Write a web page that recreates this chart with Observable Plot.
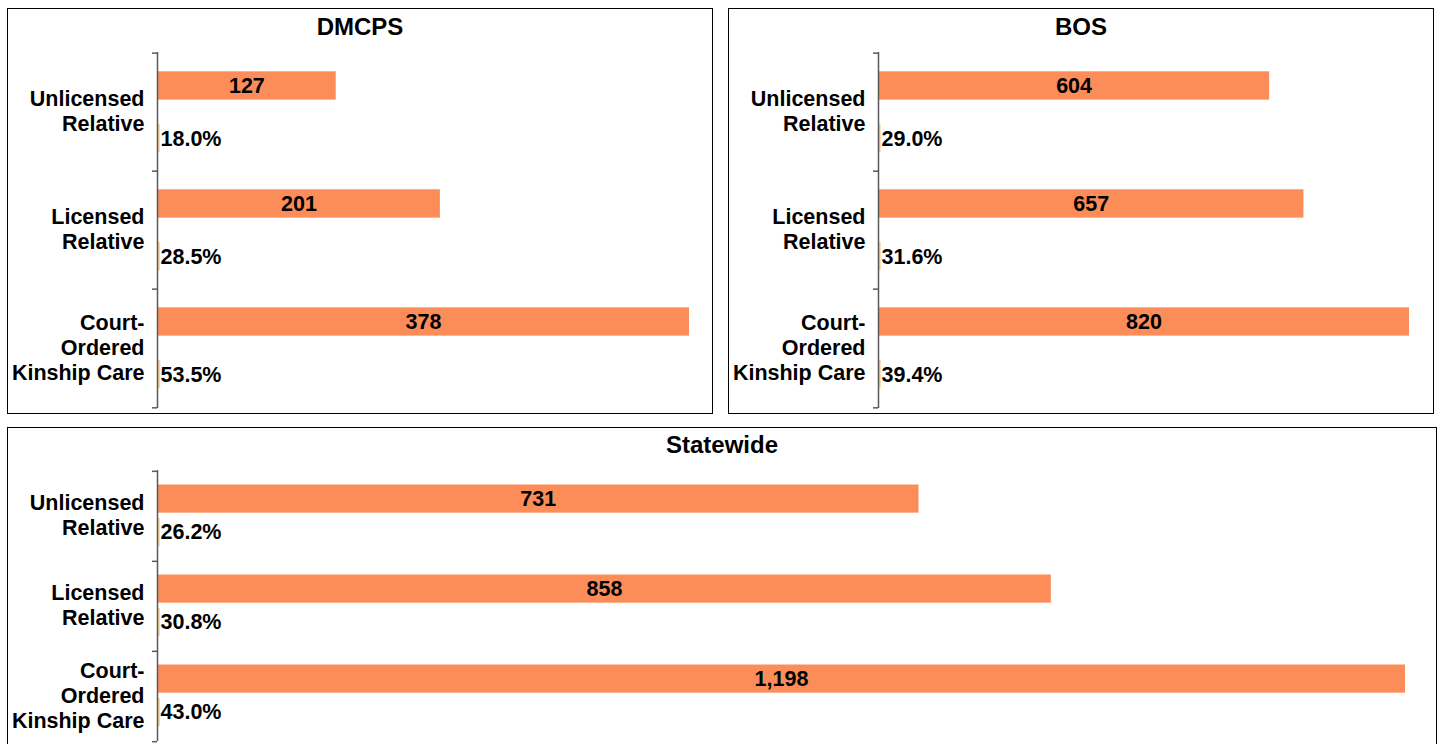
<!DOCTYPE html>
<html><head><meta charset="utf-8">
<script src="https://cdn.jsdelivr.net/npm/d3@7"></script>
<script src="https://cdn.jsdelivr.net/npm/@observablehq/plot@0.6"></script>
<style>
html,body{margin:0;padding:0;background:#fff;overflow:hidden;width:1440px;height:744px;}
body{position:relative;font-family:"Liberation Sans",Arial,sans-serif;}
.box{position:absolute;border:1px solid #000;box-sizing:border-box;}
.title{position:absolute;font-weight:bold;font-size:24px;text-align:center;line-height:24px;color:#000;}
.chart{position:absolute;}
</style></head><body>
<script>
// ---- data ----
const categories = ["Unlicensed Relative", "Licensed Relative", "Court-Ordered Kinship Care"];
const categoryLabels = ["Unlicensed\nRelative", "Licensed\nRelative", "Court-\nOrdered\nKinship Care"];
const panelNames = ["DMCPS", "BOS", "Statewide"];
const dmcpsCounts = [127, 201, 378];
const dmcpsPercents = [18.0, 28.5, 53.5];
const bosCounts = [604, 657, 820];
const bosPercents = [29.0, 31.6, 39.4];
const statewideCounts = [731, 858, 1198];
const statewidePercents = [26.2, 30.8, 43.0];

// ---- styling / layout ----
const COUNT_COLOR = "#fc8d59";
const PCT_COLOR = "#fdd49e";
const AXIS_COLOR = "#595959";
const FONT = '"Liberation Sans", Arial, sans-serif';
const fmt = d3.format(",");

const layouts = [
  {box: [7, 8, 706, 406], titleOff: 7, svg: [8, 40, 703, 372], mt: 12, mb: 4, ml: 149, mr: 22, cTop: 18.3, pTop: 71, barH: 29},
  {box: [728, 8, 706, 406], titleOff: 7, svg: [729, 40, 703, 372], mt: 12, mb: 4, ml: 149, mr: 23, cTop: 18.3, pTop: 71, barH: 29},
  {box: [7, 427, 1430, 330], titleOff: 6, svg: [8, 458, 1427, 286], mt: 12, mb: 3, ml: 149, mr: 30, cTop: 13.5, pTop: 47, barH: 28.5}
];

function panel(name, counts, percents, L) {
  const rows = categories.map((c, i) => ({category: c, label: categoryLabels[i], count: counts[i], pct: percents[i]}));
  const [sx, sy, w, h] = L.svg;
  const bw = (h - L.mt - L.mb) / categories.length;
  const countDy = L.cTop + L.barH / 2 - bw / 2;
  const pctDy = L.pTop + L.barH / 2 - bw / 2;
  const txt = {fontSize: 21.5, fontWeight: "bold", fill: "#000", fontFamily: FONT};

  const box = document.createElement("div");
  box.className = "box";
  Object.assign(box.style, {left: L.box[0] + "px", top: L.box[1] + "px", width: L.box[2] + "px", height: L.box[3] + "px"});
  document.body.appendChild(box);

  const title = document.createElement("div");
  title.className = "title";
  title.textContent = name;
  Object.assign(title.style, {left: L.box[0] + "px", top: (L.box[1] + L.titleOff) + "px", width: L.box[2] + "px"});
  document.body.appendChild(title);

  const chart = Plot.plot({
    width: w, height: h,
    marginTop: L.mt, marginBottom: L.mb, marginLeft: L.ml, marginRight: L.mr,
    x: {domain: [0, d3.max(counts)], axis: null},
    y: {domain: categories, axis: null, padding: 0},
    style: {fontFamily: FONT, background: "transparent", overflow: "visible"},
    marks: [
      Plot.barX(rows, {y: "category", x: "count", fill: COUNT_COLOR, insetTop: L.cTop, insetBottom: bw - L.cTop - L.barH}),
      Plot.barX(rows, {y: "category", x: d => d.pct / 100, fill: PCT_COLOR, stroke: PCT_COLOR, strokeWidth: 2, dx: 1.5, insetTop: L.pTop + 1, insetBottom: bw - L.pTop - L.barH + 1}),
      Plot.text(rows, {y: "category", x: d => d.count / 2, text: d => fmt(d.count), dy: countDy, ...txt}),
      Plot.text(rows, {y: "category", x: 0, text: d => d.pct.toFixed(1) + "%", textAnchor: "start", dx: 3, dy: pctDy, ...txt}),
      Plot.text(rows, {y: "category", frameAnchor: "left", text: "label", textAnchor: "end", dx: -13, dy: -2, lineHeight: 25 / 21.5, ...txt}),
      Plot.ruleX([0], {stroke: AXIS_COLOR, strokeWidth: 1.5}),
      Plot.ruleY(categories, {y: d => d, x1: 0, x2: 0, insetLeft: -5, dy: -bw / 2, stroke: AXIS_COLOR, strokeWidth: 1.5}),
      Plot.ruleY(categories.slice(-1), {y: d => d, x1: 0, x2: 0, insetLeft: -5, dy: bw / 2, stroke: AXIS_COLOR, strokeWidth: 1.5})
    ]
  });
  chart.classList.add("chart");
  Object.assign(chart.style, {left: sx + "px", top: sy + "px"});
  document.body.appendChild(chart);
}

panel(panelNames[0], dmcpsCounts, dmcpsPercents, layouts[0]);
panel(panelNames[1], bosCounts, bosPercents, layouts[1]);
panel(panelNames[2], statewideCounts, statewidePercents, layouts[2]);
</script>
</body></html>
